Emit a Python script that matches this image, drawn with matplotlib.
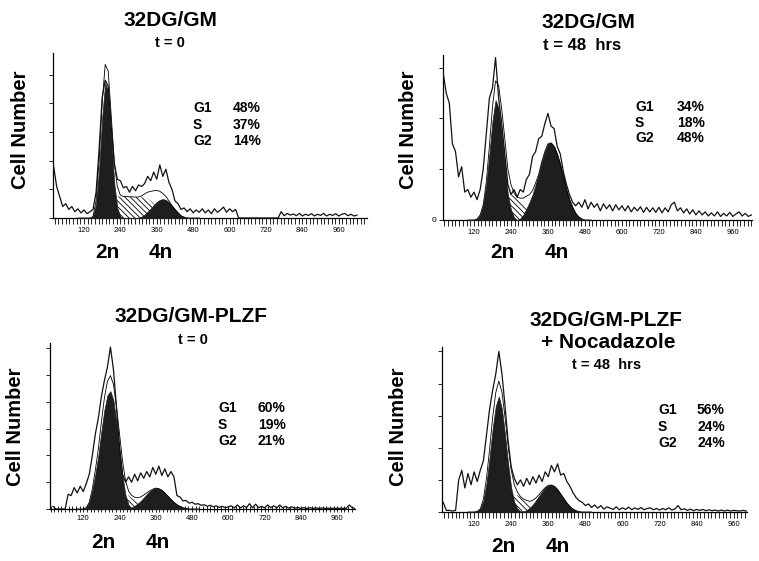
import numpy as np
import matplotlib.pyplot as plt
from matplotlib.ticker import MultipleLocator

plt.rcParams['font.family'] = ['Liberation Sans', 'DejaVu Sans']
plt.rcParams['hatch.linewidth'] = 0.6

# channel grids (raw histogram and fitted components)
raw_ch = np.arange(20, 1030, 10)
comp_ch = np.arange(100, 510, 10)

# ---- 32DG/GM, t=0 ----
gm0_raw = [1.8, 1.1, 0.75, 0.4, 0.5, 0.3, 0.4, 0.22, 0.32, 0.18,
           0.28, 0.15, 0.22, 0.3, 0.9, 2.4, 4.2, 4.8, 4.6, 3.2,
           1.9, 1.35, 1.3, 1.05, 1.1, 0.9, 1.1, 0.95, 1.15, 1.1,
           1.2, 1.45, 1.3, 1.6, 1.35, 1.85, 1.45, 1.7, 1.25, 1.0,
           0.6, 0.5, 0.3, 0.35, 0.22, 0.32, 0.18, 0.28, 0.2, 0.32,
           0.18, 0.28, 0.15, 0.32, 0.2, 0.28, 0.38, 0.2, 0.32, 0.22,
           0.3, 0, 0, 0, 0, 0, 0, 0, 0, 0,
           0, 0, 0, 0, 0, 0.22, 0.08, 0.16, 0.1, 0.14,
           0.08, 0.16, 0.07, 0.13, 0.09, 0.15, 0.07, 0.13, 0.09, 0.16,
           0.07, 0.13, 0.09, 0.15, 0.07, 0.13, 0.16, 0.08, 0.13, 0.07,
           0.1]
gm0_g1 = [0, 0, 0, 0, 0, 0.05, 0.5, 1.7, 3.5, 4.7,
          4.4, 2.8, 1.2, 0.35, 0.05, 0, 0, 0, 0, 0,
          0, 0, 0, 0, 0, 0, 0, 0, 0, 0,
          0, 0, 0, 0, 0, 0, 0, 0, 0, 0,
          0]
gm0_s = [0, 0, 0, 0, 0, 0, 0.1, 0.3, 0.5, 0.65,
         0.72, 0.75, 0.75, 0.75, 0.75, 0.75, 0.75, 0.74, 0.74, 0.73,
         0.73, 0.72, 0.72, 0.68, 0.6, 0.5, 0.4, 0.3, 0.2, 0.12,
         0.05, 0, 0, 0, 0, 0, 0, 0, 0, 0,
         0]
gm0_g2 = [0, 0, 0, 0, 0, 0, 0, 0, 0, 0,
          0, 0, 0, 0, 0, 0, 0, 0, 0, 0,
          0, 0.05, 0.12, 0.22, 0.33, 0.45, 0.56, 0.63, 0.66, 0.63,
          0.55, 0.43, 0.3, 0.18, 0.08, 0.03, 0, 0, 0, 0,
          0]
gm0_pct = ['48%', '37%', '14%']

# ---- 32DG/GM, t=48 hrs ----
gm48_raw = [2.9, 2.5, 2.3, 1.5, 1.35, 0.85, 1.05, 0.55, 0.6, 0.45,
            0.55, 0.4, 0.6, 1.0, 1.7, 2.4, 2.6, 3.2, 2.4, 1.9,
            1.3, 0.7, 0.5, 0.6, 0.45, 0.6, 0.55, 0.8, 0.9, 1.25,
            1.35, 1.6, 1.65, 1.9, 2.1, 1.85, 1.8, 1.45, 1.3, 0.95,
            0.7, 0.5, 0.35, 0.28, 0.35, 0.25, 0.4, 0.22, 0.35, 0.25,
            0.32, 0.18, 0.32, 0.22, 0.3, 0.18, 0.3, 0.2, 0.28, 0.18,
            0.28, 0.16, 0.25, 0.18, 0.26, 0.15, 0.25, 0.16, 0.24, 0.15,
            0.25, 0.14, 0.24, 0.16, 0.3, 0.35, 0.18, 0.24, 0.14, 0.22,
            0.12, 0.2, 0.1, 0.18, 0.1, 0.16, 0.08, 0.14, 0.08, 0.16,
            0.07, 0.13, 0.08, 0.15, 0.07, 0.12, 0.16, 0.08, 0.13, 0.07,
            0.1]
gm48_g1 = [0, 0, 0, 0.02, 0.1, 0.3, 0.7, 1.3, 1.95, 2.36,
           2.2, 1.7, 1.1, 0.5, 0.2, 0.05, 0, 0, 0, 0,
           0, 0, 0, 0, 0, 0, 0, 0, 0, 0,
           0, 0, 0, 0, 0, 0, 0, 0, 0, 0,
           0]
gm48_s = [0, 0, 0, 0, 0, 0, 0.05, 0.15, 0.28, 0.38,
          0.45, 0.48, 0.5, 0.5, 0.5, 0.48, 0.45, 0.4, 0.33, 0.25,
          0.15, 0.08, 0.03, 0, 0, 0, 0, 0, 0, 0,
          0, 0, 0, 0, 0, 0, 0, 0, 0, 0,
          0]
gm48_g2 = [0, 0, 0, 0, 0, 0, 0, 0, 0, 0,
           0, 0, 0, 0, 0, 0, 0, 0.03, 0.1, 0.22,
           0.35, 0.5, 0.7, 0.9, 1.15, 1.35, 1.5, 1.52, 1.45, 1.3,
           1.1, 0.85, 0.6, 0.4, 0.25, 0.13, 0.06, 0.02, 0, 0,
           0]
gm48_pct = ['34%', '18%', '48%']

# ---- 32DG/GM-PLZF, t=0 ----
plzf0_raw = [0.1, 0, 0, 0, 0, 0.55, 0.5, 0.8, 0.6, 0.85,
             0.65, 0.95, 1.3, 2.0, 2.8, 3.4, 4.2, 4.8, 5.3, 6.05,
             5.2, 3.8, 2.3, 1.3, 1.0, 1.2, 1.0, 1.3, 1.05, 1.35,
             1.15, 1.4, 1.2, 1.55, 1.3, 1.6, 1.25, 1.5, 1.2, 1.4,
             1.2, 0.5, 0.45, 0.3, 0.32, 0.22, 0.25, 0.18, 0.2, 0.14,
             0.16, 0.1, 0.14, 0.08, 0.12, 0.06, 0.1, 0.05, 0.08, 0.12,
             0.04, 0.15, 0.04, 0.12, 0.05, 0.2, 0.04, 0.18, 0.05, 0.1,
             0.04, 0.15, 0.05, 0.12, 0.04, 0.15, 0.04, 0.1, 0.03, 0.08,
             0.03, 0.06, 0.02, 0.05, 0.02, 0.05, 0.02, 0.04, 0.02, 0.04,
             0.02, 0.03, 0.02, 0.03, 0.02, 0.03, 0.02, 0.03, 0.15, 0.05,
             0.02]
plzf0_g1 = [0, 0, 0, 0.05, 0.25, 0.7, 1.3, 2.0, 2.9, 3.7,
            4.25, 4.4, 4.05, 3.2, 2.2, 1.2, 0.5, 0.15, 0.03, 0,
            0, 0, 0, 0, 0, 0, 0, 0, 0, 0,
            0, 0, 0, 0, 0, 0, 0, 0, 0, 0,
            0]
plzf0_s = [0, 0, 0, 0, 0, 0.05, 0.15, 0.25, 0.35, 0.45,
           0.52, 0.58, 0.6, 0.6, 0.6, 0.58, 0.55, 0.5, 0.42, 0.32,
           0.22, 0.15, 0.1, 0.05, 0.02, 0, 0, 0, 0, 0,
           0, 0, 0, 0, 0, 0, 0, 0, 0, 0,
           0]
plzf0_g2 = [0, 0, 0, 0, 0, 0, 0, 0, 0, 0,
            0, 0, 0, 0, 0, 0, 0, 0.02, 0.06, 0.12,
            0.2, 0.3, 0.42, 0.55, 0.66, 0.74, 0.78, 0.76, 0.7, 0.6,
            0.48, 0.36, 0.25, 0.16, 0.1, 0.05, 0.02, 0, 0, 0,
            0]
plzf0_pct = ['60%', '19%', '21%']

# ---- 32DG/GM-PLZF + Nocadazole, t=48 hrs ----
noc_raw = [0.3, 0.05, 0.05, 0.03, 0.05, 1.0, 1.3, 0.75, 1.2, 0.85,
           1.25, 0.95, 1.3, 1.6, 2.4, 3.2, 3.8, 4.3, 5.0, 4.3,
           3.3, 2.2, 1.4, 1.05, 0.85, 1.0, 0.8, 1.05, 0.85, 1.1,
           0.9, 1.15, 0.95, 1.25, 1.1, 1.45, 1.25, 1.5, 1.15, 1.2,
           0.95, 0.8, 0.6, 0.45, 0.35, 0.3, 0.2, 0.25, 0.14, 0.22,
           0.12, 0.2, 0.09, 0.16, 0.12, 0.08, 0.16, 0.07, 0.13, 0.08,
           0.15, 0.07, 0.13, 0.08, 0.14, 0.07, 0.11, 0.13, 0.07, 0.11,
           0.06, 0.11, 0.07, 0.13, 0.06, 0.1, 0.2, 0.07, 0.1, 0.05,
           0.09, 0.04, 0.08, 0.05, 0.08, 0.04, 0.07, 0.04, 0.06, 0.03,
           0.06, 0.03, 0.06, 0.03, 0.05, 0.04, 0.03, 0.05, 0.03, 0.03,
           0.03]
noc_g1 = [0, 0, 0, 0.02, 0.1, 0.35, 0.9, 1.7, 2.6, 3.3,
          3.6, 3.2, 2.4, 1.5, 0.75, 0.3, 0.1, 0.02, 0, 0,
          0, 0, 0, 0, 0, 0, 0, 0, 0, 0,
          0, 0, 0, 0, 0, 0, 0, 0, 0, 0,
          0]
noc_s = [0, 0, 0, 0, 0, 0.05, 0.15, 0.25, 0.35, 0.42,
         0.48, 0.53, 0.55, 0.56, 0.56, 0.55, 0.52, 0.46, 0.38, 0.3,
         0.2, 0.14, 0.08, 0.04, 0.02, 0, 0, 0, 0, 0,
         0, 0, 0, 0, 0, 0, 0, 0, 0, 0,
         0]
noc_g2 = [0, 0, 0, 0, 0, 0, 0, 0, 0, 0,
          0, 0, 0, 0, 0, 0, 0, 0, 0.02, 0.06,
          0.13, 0.23, 0.36, 0.5, 0.64, 0.76, 0.83, 0.84, 0.8, 0.7,
          0.56, 0.42, 0.28, 0.17, 0.09, 0.04, 0.01, 0, 0, 0,
          0]
noc_pct = ['56%', '24%', '24%']

phases = ['G1', 'S', 'G2']
xticks = [120, 240, 360, 480, 600, 720, 840, 960]

W, H = 759, 561
fig = plt.figure(figsize=(W / 100, H / 100), dpi=100)


def fx(x):
    return x / W


def fy(y):
    return 1 - y / H


def txt(x, y, s, size, ha='center', rot=0):
    fig.text(fx(x), fy(y), s, fontsize=size, fontweight='bold',
             ha=ha, va='center', rotation=rot)


def panel(box, xlim, ytop, raw, g1, s, g2, inout=False, zero=False):
    l, r, b, t = box
    ax = fig.add_axes([fx(l), fy(b), (r - l) / W, (b - t) / H])
    g1, s, g2 = np.array(g1), np.array(s), np.array(g2)
    ax.fill_between(comp_ch, s, facecolor='white', edgecolor='black',
                    hatch='\\\\\\\\\\\\', lw=0, zorder=2)
    ax.fill_between(comp_ch, g1, color='#1e1e1e', lw=0.5, zorder=3)
    ax.fill_between(comp_ch, g2, color='#1e1e1e', lw=0.5, zorder=3)
    ax.plot(comp_ch, g1 + s + g2, color='black', lw=0.6, zorder=4)
    ax.plot(raw_ch, raw, color='#111111', lw=0.9, zorder=5)
    ax.set_xlim(xlim)
    ax.set_ylim(0, ytop)
    for side in ['top', 'right']:
        ax.spines[side].set_visible(False)
    for side in ['left', 'bottom']:
        ax.spines[side].set_linewidth(0.9)
    ax.set_xticks(xticks)
    ax.set_xticklabels([str(v) for v in xticks], fontsize=5.5)
    ax.xaxis.set_minor_locator(MultipleLocator(12))
    ax.tick_params(axis='x', which='both', direction='inout' if inout else 'out',
                   length=4, width=0.6, pad=2.5)
    yt = list(range(int(ytop) + 1))
    ax.set_yticks(yt)
    ax.set_yticklabels(['0' if (zero and v == 0) else '' for v in yt], fontsize=6)
    ax.tick_params(axis='y', length=3, width=0.6, pad=2)
    return ax


# top left
panel((53, 367, 218, 53), (18, 1053), 5.75, gm0_raw, gm0_g1, gm0_s, gm0_g2)
txt(170, 20, '32DG/GM', 15)
txt(170, 43, 't = 0', 10.5)
txt(21, 130, 'Cell Number', 14.5, rot=90)
for i, ph in enumerate(phases):
    txt(193, [108, 125, 141][i], ph, 10, ha='left')
    txt(233, [108, 125, 141][i], gm0_pct[i], 10, ha='left')
txt(107, 253, '2n', 15)
txt(161, 253, '4n', 15)

# top right
panel((443, 752, 220, 55), (19.5, 1022), 3.25, gm48_raw, gm48_g1, gm48_s, gm48_g2, zero=True)
txt(588, 22, '32DG/GM', 15)
txt(582, 45, 't = 48  hrs', 12)
txt(408, 130, 'Cell Number', 14.5, rot=90)
for i, ph in enumerate(phases):
    txt(635, [107, 123, 138][i], ph, 10, ha='left')
    txt(677, [107, 123, 138][i], gm48_pct[i], 10, ha='left')
txt(502, 253, '2n', 15)
txt(557, 253, '4n', 15)

# bottom left
panel((50, 355, 509, 343), (10, 1019), 6.2, plzf0_raw, plzf0_g1, plzf0_s, plzf0_g2, inout=True)
txt(191, 317, '32DG/GM-PLZF', 15)
txt(193, 340, 't = 0', 10.5)
txt(16, 427, 'Cell Number', 14.5, rot=90)
for i, ph in enumerate(phases):
    txt(218, [408, 425, 441][i], ph, 10, ha='left')
    txt(258, [408, 425, 441][i], plzf0_pct[i], 10, ha='left')
txt(103, 543, '2n', 15)
txt(158, 543, '4n', 15)

# bottom right
panel((442, 747, 512, 347), (16, 1003), 5.14, noc_raw, noc_g1, noc_s, noc_g2)
txt(606, 320, '32DG/GM-PLZF', 15)
txt(608, 342, '+ Nocadazole', 15)
txt(607, 365, 't = 48  hrs', 10.5)
txt(399, 427, 'Cell Number', 14.5, rot=90)
for i, ph in enumerate(phases):
    txt(658, [410, 427, 443][i], ph, 10, ha='left')
    txt(697, [410, 427, 443][i], noc_pct[i], 10, ha='left')
txt(503, 547, '2n', 15)
txt(558, 547, '4n', 15)

fig.savefig('out.png', dpi=100)
